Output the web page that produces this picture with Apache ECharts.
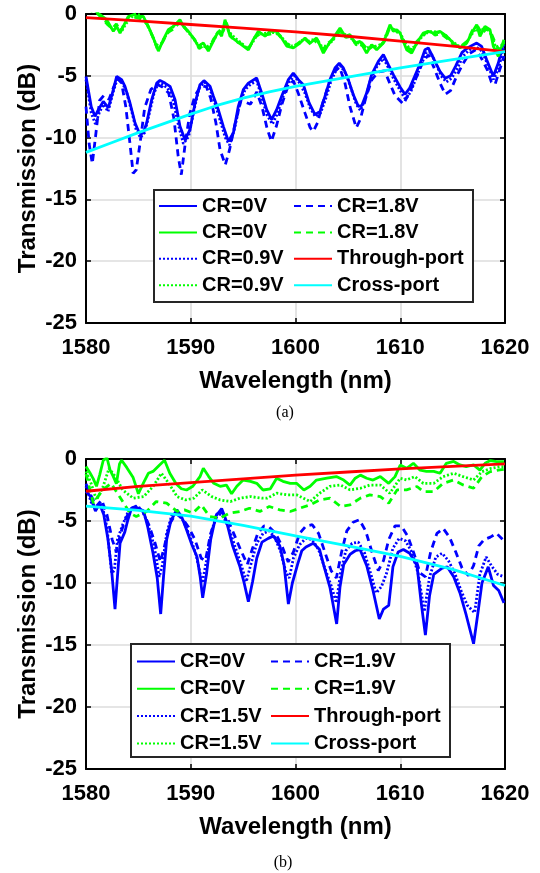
<!DOCTYPE html>
<html>
<head>
<meta charset="utf-8">
<script src="https://cdn.jsdelivr.net/npm/echarts@6/dist/echarts.min.js"></script>
<style>html,body{margin:0;padding:0;background:#fff;}#c{width:540px;height:873px;}</style>
</head>
<body>
<div id="c"></div>
<script>
// ---------- axis ticks ----------
const xTicks = [1580, 1590, 1600, 1610, 1620];
const yTicks = [-25, -20, -15, -10, -5, 0];

// ---------- (a) top panel: [wavelength nm, transmission dB] ----------
const topB0 = [[1580.0,-5.05],[1580.5,-7.5],[1580.86,-8.28],[1581.18,-7.74],[1581.65,-7.07],[1582.13,-7.6],[1582.61,-6.12],[1582.93,-5.05],[1583.4,-5.31],[1583.72,-5.85],[1584.2,-7.2],[1584.68,-8.82],[1585.09,-9.63],[1585.47,-9.63],[1585.79,-8.82],[1586.27,-6.93],[1586.75,-5.59],[1587.06,-5.37],[1587.54,-5.59],[1588.02,-5.85],[1588.5,-6.93],[1588.97,-9.09],[1589.45,-10.17],[1589.93,-9.36],[1590.41,-7.2],[1590.88,-5.72],[1591.26,-5.39],[1591.84,-5.85],[1592.16,-6.66],[1592.63,-7.74],[1593.11,-9.09],[1593.59,-10.3],[1594.07,-9.63],[1594.54,-7.47],[1595.02,-6.12],[1595.5,-5.59],[1596.29,-5.18],[1596.77,-6.39],[1597.25,-7.74],[1597.72,-8.55],[1598.2,-7.74],[1598.68,-6.66],[1599.32,-5.31],[1599.79,-4.78],[1600.27,-5.31],[1600.75,-5.72],[1601.3,-7.2],[1601.86,-8.14],[1602.34,-7.88],[1602.82,-6.66],[1603.29,-5.31],[1603.77,-4.37],[1604.18,-3.97],[1604.57,-4.37],[1605.04,-5.31],[1605.52,-6.53],[1606.0,-7.47],[1606.32,-7.42],[1606.79,-6.39],[1607.27,-4.91],[1607.91,-3.83],[1608.39,-3.29],[1608.86,-4.1],[1609.34,-4.91],[1609.98,-5.9],[1610.45,-6.5],[1610.9,-6.0],[1611.4,-5.0],[1611.9,-4.0],[1612.36,-2.89],[1612.68,-2.75],[1613.16,-3.56],[1613.79,-4.64],[1614.3,-5.2],[1614.8,-5.0],[1615.3,-4.2],[1615.9,-3.1],[1616.5,-2.7],[1617.3,-2.35],[1617.77,-2.62],[1618.25,-3.7],[1618.89,-5.04],[1619.36,-3.97],[1619.9,-2.21]];
const topB09 = [[1580.0,-5.3],[1580.5,-8.0],[1580.9,-8.9],[1581.3,-7.9],[1581.7,-7.3],[1582.1,-7.9],[1582.6,-6.3],[1583.0,-5.2],[1583.5,-5.6],[1583.9,-6.4],[1584.4,-8.0],[1584.8,-9.4],[1585.2,-10.0],[1585.6,-9.6],[1586.0,-8.2],[1586.5,-6.4],[1586.9,-5.6],[1587.3,-5.7],[1587.8,-6.0],[1588.3,-6.9],[1588.8,-8.9],[1589.3,-10.5],[1589.8,-9.9],[1590.3,-7.8],[1590.8,-6.0],[1591.3,-5.5],[1591.8,-6.0],[1592.3,-7.2],[1592.8,-8.6],[1593.3,-10.0],[1593.7,-10.6],[1594.2,-9.2],[1594.7,-7.2],[1595.2,-6.1],[1595.7,-5.7],[1596.3,-5.4],[1596.8,-6.8],[1597.3,-8.2],[1597.8,-8.9],[1598.3,-8.0],[1598.8,-6.7],[1599.4,-5.5],[1599.9,-5.0],[1600.4,-5.6],[1600.9,-6.4],[1601.4,-7.6],[1601.9,-8.3],[1602.4,-8.0],[1602.9,-6.8],[1603.4,-5.4],[1603.9,-4.5],[1604.3,-4.2],[1604.8,-4.8],[1605.3,-6.0],[1605.8,-7.3],[1606.2,-7.8],[1606.7,-6.8],[1607.2,-5.2],[1607.8,-4.2],[1608.4,-3.6],[1608.9,-4.4],[1609.4,-5.3],[1610.0,-6.2],[1610.5,-6.9],[1611.0,-6.3],[1611.5,-5.2],[1612.0,-4.1],[1612.5,-3.1],[1612.9,-3.1],[1613.4,-4.0],[1613.9,-5.0],[1614.4,-5.5],[1614.9,-5.2],[1615.4,-4.5],[1616.0,-3.4],[1616.6,-2.9],[1617.3,-2.7],[1617.8,-3.0],[1618.3,-4.0],[1618.9,-5.3],[1619.4,-4.4],[1619.9,-2.5]];
const topB18 = [[1580.0,-7.5],[1580.3,-10.5],[1580.6,-12.1],[1580.9,-10.0],[1581.3,-7.0],[1581.7,-6.6],[1582.2,-6.9],[1582.6,-6.0],[1583.0,-5.2],[1583.4,-5.6],[1583.8,-7.5],[1584.2,-10.5],[1584.5,-12.9],[1584.8,-12.6],[1585.2,-10.2],[1585.6,-7.6],[1586.2,-6.1],[1586.8,-5.7],[1587.3,-5.9],[1587.9,-6.4],[1588.4,-8.5],[1588.8,-11.5],[1589.1,-13.0],[1589.5,-10.3],[1589.9,-8.1],[1590.4,-6.6],[1591.0,-5.8],[1591.5,-5.9],[1591.9,-6.8],[1592.4,-8.8],[1592.8,-11.0],[1593.3,-12.2],[1593.7,-11.0],[1594.2,-9.0],[1594.8,-7.0],[1595.7,-7.3],[1596.3,-6.3],[1596.8,-7.5],[1597.3,-9.3],[1597.7,-10.3],[1598.2,-9.0],[1598.7,-7.3],[1599.3,-5.8],[1599.8,-5.4],[1600.3,-6.5],[1600.9,-8.0],[1601.4,-9.2],[1601.7,-9.5],[1602.1,-8.8],[1602.6,-7.2],[1603.2,-5.6],[1603.8,-4.6],[1604.2,-4.3],[1604.7,-5.5],[1605.2,-7.5],[1605.8,-9.2],[1606.2,-8.5],[1606.7,-6.8],[1607.3,-5.3],[1607.9,-4.7],[1608.5,-4.6],[1609.0,-5.6],[1609.5,-6.6],[1610.3,-7.3],[1610.9,-6.3],[1611.6,-5.0],[1612.2,-3.8],[1612.7,-3.3],[1613.2,-4.3],[1613.8,-5.6],[1614.3,-6.5],[1614.8,-6.2],[1615.4,-5.0],[1616.0,-4.0],[1616.6,-3.2],[1617.2,-2.9],[1617.7,-3.5],[1618.3,-4.5],[1618.7,-5.5],[1619.05,-5.7],[1619.5,-4.5],[1619.9,-3.4]];
const topG0 = [[1580.0,0.5],[1580.8,0.3],[1581.34,-0.06],[1581.97,-0.46],[1582.61,-1.4],[1582.93,-1.0],[1583.25,-1.54],[1583.56,-1.0],[1584.04,-0.2],[1584.52,-0.06],[1585.0,-0.2],[1585.47,-0.2],[1585.95,-1.0],[1586.43,-1.94],[1586.91,-3.0],[1587.38,-2.08],[1587.86,-1.27],[1588.34,-1.0],[1588.97,-0.46],[1589.29,-1.0],[1589.77,-1.4],[1590.25,-1.94],[1590.72,-2.6],[1591.2,-2.35],[1591.68,-3.0],[1592.16,-2.2],[1592.63,-1.4],[1592.95,-1.8],[1593.27,-0.46],[1593.75,-1.8],[1594.38,-2.2],[1595.02,-2.6],[1595.5,-2.9],[1595.97,-2.08],[1596.45,-1.4],[1597.09,-1.8],[1597.57,-1.4],[1598.2,-1.4],[1598.68,-1.94],[1599.16,-2.6],[1599.79,-2.75],[1600.43,-2.35],[1600.91,-1.94],[1601.38,-2.35],[1602.02,-1.94],[1602.66,-3.16],[1603.13,-2.48],[1603.61,-1.94],[1604.25,-1.13],[1604.73,-1.8],[1605.2,-1.67],[1605.68,-2.35],[1606.16,-2.21],[1606.79,-3.16],[1607.27,-2.48],[1607.75,-2.89],[1608.39,-2.35],[1609.02,-0.87],[1609.34,-1.4],[1609.66,-1.27],[1609.98,-1.54],[1610.61,-2.89],[1611.09,-3.16],[1611.57,-2.35],[1612.2,-1.54],[1612.68,-1.4],[1613.16,-1.54],[1613.79,-1.4],[1614.43,-1.8],[1615.07,-2.35],[1615.7,-2.75],[1616.34,-2.35],[1616.82,-1.54],[1617.3,-0.87],[1617.61,-1.8],[1618.09,-1.0],[1618.57,-1.27],[1618.89,-2.62],[1619.36,-3.43],[1619.9,-2.08]];
const topG09 = [[1580.0,0.6],[1581.0,0.2],[1581.4,-0.2],[1581.9,-0.6],[1582.4,-1.1],[1582.8,-1.3],[1583.1,-1.1],[1583.4,-1.4],[1583.8,-0.8],[1584.3,-0.3],[1584.7,0.0],[1585.2,-0.1],[1585.7,-0.6],[1586.2,-1.5],[1586.6,-2.3],[1587.0,-2.7],[1587.5,-1.9],[1588.0,-1.3],[1588.6,-0.8],[1589.1,-0.7],[1589.6,-1.3],[1590.1,-1.8],[1590.6,-2.4],[1591.0,-2.5],[1591.5,-2.7],[1592.0,-2.4],[1592.5,-1.6],[1592.9,-1.2],[1593.3,-0.8],[1593.7,-1.5],[1594.3,-2.0],[1594.9,-2.4],[1595.4,-2.8],[1595.9,-2.3],[1596.4,-1.6],[1596.9,-1.6],[1597.5,-1.5],[1598.1,-1.5],[1598.6,-1.8],[1599.2,-2.4],[1599.7,-2.6],[1600.3,-2.4],[1600.8,-2.0],[1601.3,-2.2],[1601.9,-2.0],[1602.5,-2.6],[1603.0,-2.6],[1603.6,-2.1],[1604.1,-1.4],[1604.6,-1.6],[1605.1,-1.8],[1605.6,-2.2],[1606.1,-2.4],[1606.7,-2.8],[1607.2,-2.6],[1607.7,-2.6],[1608.3,-2.4],[1608.9,-1.2],[1609.4,-1.3],[1609.9,-1.4],[1610.5,-2.4],[1611.0,-2.9],[1611.5,-2.5],[1612.1,-1.8],[1612.6,-1.5],[1613.1,-1.4],[1613.7,-1.5],[1614.3,-1.7],[1614.9,-2.2],[1615.6,-2.6],[1616.2,-2.5],[1616.7,-1.8],[1617.2,-1.2],[1617.6,-1.5],[1618.0,-1.1],[1618.5,-1.3],[1618.9,-2.2],[1619.3,-3.1],[1619.9,-2.2]];
const topG18 = [[1580.0,0.4],[1581.0,0.1],[1581.5,-0.3],[1582.0,-0.8],[1582.5,-1.2],[1582.9,-0.8],[1583.3,-1.4],[1583.7,-0.7],[1584.2,-0.1],[1584.8,-0.3],[1585.3,-0.4],[1585.8,-0.8],[1586.3,-1.7],[1586.8,-2.8],[1587.3,-2.3],[1587.8,-1.5],[1588.4,-1.2],[1589.0,-0.6],[1589.4,-1.1],[1589.9,-1.6],[1590.4,-2.1],[1590.8,-2.8],[1591.3,-2.5],[1591.7,-2.9],[1592.2,-2.0],[1592.7,-1.6],[1593.1,-1.4],[1593.4,-0.7],[1593.9,-1.9],[1594.5,-2.3],[1595.1,-2.5],[1595.6,-2.7],[1596.1,-1.9],[1596.6,-1.6],[1597.2,-1.7],[1597.7,-1.6],[1598.3,-1.6],[1598.8,-2.1],[1599.3,-2.5],[1599.9,-2.6],[1600.5,-2.2],[1601.0,-2.1],[1601.5,-2.5],[1602.1,-2.1],[1602.7,-2.9],[1603.2,-2.3],[1603.7,-2.0],[1604.3,-1.3],[1604.8,-1.9],[1605.3,-1.8],[1605.8,-2.5],[1606.3,-2.3],[1606.9,-2.9],[1607.4,-2.6],[1607.9,-2.7],[1608.5,-2.2],[1609.0,-1.1],[1609.5,-1.3],[1610.0,-1.7],[1610.6,-2.7],[1611.1,-2.9],[1611.6,-2.2],[1612.2,-1.7],[1612.8,-1.3],[1613.3,-1.7],[1613.9,-1.6],[1614.5,-2.0],[1615.1,-2.5],[1615.8,-2.6],[1616.4,-2.2],[1616.9,-1.3],[1617.4,-1.0],[1617.8,-1.6],[1618.2,-1.2],[1618.7,-1.6],[1619.1,-2.4],[1619.5,-3.0],[1619.9,-2.3]];
const topThrough = [[1580,-0.3],[1585,-0.55],[1590,-0.85],[1595,-1.15],[1600,-1.45],[1605,-1.8],[1610,-2.2],[1615,-2.6],[1620,-3.05]];
const topCross = [[1580,-11.2],[1582.5,-10.4],[1585,-9.6],[1587.5,-8.85],[1590,-8.1],[1592.5,-7.4],[1595,-6.8],[1597.5,-6.3],[1600,-5.85],[1605,-5.1],[1610,-4.35],[1615,-3.7],[1620,-3.05]];

// ---------- (b) bottom panel ----------
const botB0 = [[1580.0,-2.6],[1580.4,-3.0],[1580.9,-4.2],[1581.3,-3.6],[1581.7,-4.5],[1582.1,-6.5],[1582.45,-9.0],[1582.77,-12.1],[1583.0,-9.5],[1583.25,-6.8],[1583.7,-5.9],[1584.0,-4.9],[1584.3,-4.1],[1584.8,-3.9],[1585.5,-4.2],[1585.9,-5.5],[1586.4,-7.6],[1586.8,-9.6],[1587.13,-12.5],[1587.4,-9.5],[1587.7,-6.5],[1588.1,-5.0],[1588.65,-4.1],[1589.1,-4.6],[1589.6,-5.7],[1590.1,-6.9],[1590.6,-7.9],[1590.9,-9.5],[1591.14,-11.2],[1591.5,-9.3],[1591.9,-6.5],[1592.4,-4.6],[1592.95,-4.0],[1593.4,-5.0],[1594.0,-7.0],[1594.7,-8.7],[1595.1,-10.0],[1595.5,-11.5],[1595.9,-9.9],[1596.3,-8.0],[1596.8,-6.7],[1597.4,-6.4],[1597.9,-6.2],[1598.5,-7.0],[1598.9,-8.5],[1599.32,-11.7],[1599.7,-10.0],[1600.2,-8.5],[1600.6,-7.4],[1601.0,-7.1],[1601.7,-6.8],[1602.3,-7.3],[1602.7,-8.6],[1603.3,-10.4],[1603.93,-13.3],[1604.25,-10.3],[1604.6,-8.5],[1605.2,-7.7],[1605.7,-7.4],[1606.16,-7.3],[1606.8,-8.6],[1607.4,-10.6],[1608.0,-12.9],[1608.4,-12.1],[1608.9,-11.8],[1609.3,-8.7],[1609.8,-7.5],[1610.3,-7.3],[1610.9,-7.6],[1611.6,-8.6],[1612.0,-11.6],[1612.4,-14.2],[1612.8,-11.0],[1613.2,-9.3],[1614.0,-8.8],[1614.5,-8.7],[1615.1,-9.5],[1615.7,-10.8],[1616.3,-12.6],[1617.0,-14.9],[1617.4,-12.5],[1617.8,-10.0],[1618.4,-8.7],[1618.9,-10.2],[1619.4,-10.6],[1619.9,-11.6]];
const botB15 = [[1580.0,-2.2],[1580.5,-3.5],[1581.0,-4.0],[1581.5,-3.6],[1582.0,-5.5],[1582.45,-9.2],[1582.7,-9.0],[1583.0,-6.5],[1583.5,-5.3],[1584.0,-4.3],[1584.6,-3.8],[1585.3,-4.0],[1585.9,-5.2],[1586.5,-7.0],[1587.0,-9.5],[1587.3,-8.5],[1587.7,-6.0],[1588.2,-4.5],[1588.7,-4.3],[1589.3,-5.0],[1589.9,-6.2],[1590.5,-7.7],[1591.1,-10.0],[1591.5,-8.2],[1592.0,-5.8],[1592.5,-4.4],[1593.0,-4.5],[1593.6,-5.5],[1594.2,-7.0],[1594.8,-8.5],[1595.3,-9.9],[1595.8,-8.3],[1596.3,-6.8],[1596.9,-6.0],[1597.5,-5.8],[1598.0,-6.3],[1598.6,-7.5],[1599.1,-9.2],[1599.4,-9.6],[1599.8,-8.0],[1600.4,-6.9],[1601.0,-6.4],[1601.6,-6.5],[1602.2,-7.3],[1602.8,-8.8],[1603.4,-10.2],[1603.9,-11.6],[1604.3,-9.2],[1604.8,-7.4],[1605.4,-6.8],[1606.0,-6.7],[1606.6,-7.6],[1607.2,-9.3],[1607.7,-10.8],[1608.2,-10.3],[1608.7,-9.2],[1609.3,-7.2],[1609.9,-6.4],[1610.5,-6.6],[1611.1,-7.5],[1611.7,-9.2],[1612.3,-12.3],[1612.8,-9.5],[1613.4,-7.9],[1614.0,-7.6],[1614.6,-8.2],[1615.2,-9.2],[1615.8,-10.6],[1616.4,-11.8],[1617.1,-12.4],[1617.6,-9.3],[1618.2,-7.9],[1618.7,-8.6],[1619.3,-9.3],[1619.9,-9.5]];
const botB19 = [[1580.0,-2.0],[1580.5,-3.0],[1581.0,-3.8],[1581.5,-3.3],[1582.0,-4.5],[1582.5,-6.5],[1582.9,-7.5],[1583.3,-6.0],[1583.8,-4.8],[1584.3,-4.0],[1584.8,-3.8],[1585.4,-4.2],[1586.0,-5.3],[1586.6,-6.8],[1587.1,-8.3],[1587.5,-7.0],[1588.0,-5.2],[1588.6,-4.4],[1589.2,-4.8],[1589.8,-5.5],[1590.4,-6.5],[1591.0,-8.0],[1591.4,-8.2],[1591.9,-6.0],[1592.5,-4.6],[1593.0,-4.3],[1593.6,-5.0],[1594.2,-6.2],[1594.8,-7.4],[1595.4,-8.5],[1595.9,-7.2],[1596.4,-6.0],[1597.0,-5.4],[1597.5,-5.5],[1598.1,-6.0],[1598.7,-7.0],[1599.3,-8.3],[1599.8,-7.5],[1600.4,-6.0],[1601.0,-5.4],[1601.6,-5.3],[1602.2,-6.0],[1602.8,-7.5],[1603.4,-9.0],[1603.9,-9.6],[1604.4,-7.5],[1604.9,-5.8],[1605.5,-5.1],[1606.1,-4.9],[1606.7,-5.8],[1607.3,-7.5],[1607.9,-9.0],[1608.4,-8.2],[1608.9,-6.5],[1609.5,-5.4],[1610.1,-5.4],[1610.7,-6.2],[1611.3,-7.6],[1611.9,-9.2],[1612.4,-9.5],[1612.9,-7.5],[1613.5,-6.0],[1614.1,-5.6],[1614.7,-6.3],[1615.3,-7.5],[1615.9,-8.8],[1616.5,-9.4],[1617.0,-8.6],[1617.5,-7.0],[1618.0,-6.5],[1618.6,-6.3],[1619.2,-6.0],[1619.9,-6.6]];
const botG0 = [[1580.0,-0.6],[1580.4,-1.15],[1580.7,-1.6],[1581.0,-2.2],[1581.3,-1.3],[1581.65,-0.1],[1582.0,0.1],[1582.3,-0.9],[1582.6,-1.4],[1582.9,-2.0],[1583.2,-0.4],[1583.4,-0.1],[1583.9,-0.7],[1584.5,-1.5],[1585.0,-2.8],[1585.5,-1.9],[1585.95,-1.15],[1586.4,-1.0],[1587.0,-0.5],[1587.5,-0.1],[1588.0,-1.15],[1588.6,-2.0],[1589.1,-2.4],[1589.6,-2.5],[1590.2,-2.2],[1590.9,-1.4],[1591.2,-0.75],[1591.7,-1.4],[1592.2,-1.96],[1592.8,-2.2],[1593.4,-2.1],[1593.9,-2.8],[1594.4,-2.2],[1595.0,-1.7],[1595.7,-1.8],[1596.3,-1.96],[1596.9,-2.5],[1597.6,-2.4],[1598.2,-1.55],[1598.8,-1.8],[1599.5,-1.96],[1600.1,-1.96],[1600.8,-2.5],[1601.4,-2.2],[1602.0,-1.7],[1603.0,-1.55],[1603.9,-1.42],[1604.6,-1.7],[1605.2,-2.1],[1605.7,-1.55],[1606.2,-1.3],[1606.8,-1.55],[1607.4,-1.7],[1608.1,-1.42],[1608.9,-1.96],[1609.5,-1.42],[1610.0,-0.48],[1610.6,-0.75],[1611.25,-0.35],[1611.9,-0.9],[1612.5,-1.0],[1613.2,-1.0],[1613.8,-1.15],[1614.4,-0.35],[1615.1,-0.2],[1615.7,-0.48],[1616.3,-0.62],[1617.0,-0.48],[1617.6,-0.9],[1618.1,-0.35],[1618.6,-0.13],[1619.2,-0.21],[1619.9,-0.21]];
const botG15 = [[1580.0,-1.0],[1580.5,-2.0],[1581.0,-3.3],[1581.6,-2.3],[1582.2,-0.75],[1582.8,-1.42],[1583.5,-2.49],[1584.5,-3.16],[1585.5,-3.03],[1586.4,-2.22],[1587.2,-1.15],[1587.9,-1.96],[1588.7,-3.03],[1589.5,-3.3],[1590.3,-3.16],[1591.1,-2.49],[1592.0,-3.03],[1592.8,-3.3],[1593.8,-3.43],[1594.7,-3.16],[1595.7,-3.03],[1596.8,-3.16],[1597.3,-3.16],[1598.2,-2.76],[1599.2,-2.89],[1600.1,-2.89],[1601.4,-3.43],[1602.3,-2.76],[1603.3,-2.2],[1604.3,-2.1],[1605.2,-2.49],[1606.2,-2.36],[1607.1,-2.1],[1608.1,-2.1],[1609.0,-2.76],[1610.0,-1.55],[1610.6,-1.69],[1611.4,-1.42],[1612.2,-1.96],[1613.2,-1.96],[1614.1,-1.42],[1615.1,-1.15],[1616.0,-1.42],[1617.0,-1.69],[1617.8,-1.02],[1618.7,-0.75],[1619.5,-0.62],[1619.9,-0.62]];
const botG19 = [[1580.0,-1.2],[1580.7,-3.56],[1581.6,-2.49],[1582.4,-1.96],[1583.2,-3.03],[1584.2,-4.37],[1584.8,-4.64],[1585.8,-4.23],[1586.7,-3.43],[1587.7,-3.56],[1588.7,-4.23],[1589.4,-4.1],[1590.2,-4.37],[1591.0,-3.7],[1591.8,-4.64],[1592.8,-4.77],[1593.7,-4.37],[1594.7,-4.23],[1595.6,-3.97],[1596.6,-4.23],[1597.5,-3.83],[1598.5,-4.1],[1599.5,-4.23],[1600.4,-3.97],[1601.4,-3.7],[1602.3,-3.3],[1603.3,-3.16],[1604.3,-3.83],[1605.2,-3.7],[1606.2,-3.16],[1607.1,-2.89],[1608.1,-3.03],[1608.9,-3.56],[1609.7,-2.49],[1610.6,-2.49],[1611.6,-2.22],[1612.2,-2.63],[1613.2,-2.63],[1614.1,-1.96],[1615.1,-1.69],[1616.0,-2.09],[1617.0,-2.36],[1617.8,-1.42],[1618.6,-1.02],[1619.5,-0.88],[1619.9,-0.83]];
const botThrough = [[1580,-2.6],[1585,-2.2],[1590,-1.9],[1595,-1.6],[1600,-1.3],[1605,-1.05],[1610,-0.8],[1615,-0.6],[1620,-0.4]];
const botCross = [[1580,-3.8],[1585,-4.15],[1590,-4.6],[1595,-5.35],[1600,-6.2],[1605,-7.0],[1610,-7.85],[1615,-8.9],[1620,-10.2]];

// ---------- legend labels ----------
const legendLabels = {
  a_b0:'CR=0V', a_g0:'CR=0V', a_b09:'CR=0.9V', a_g09:'CR=0.9V',
  a_b18:'CR=1.8V', a_g18:'CR=1.8V', a_thr:'Through-port', a_crs:'Cross-port',
  b_b0:'CR=0V', b_g0:'CR=0V', b_b15:'CR=1.5V', b_g15:'CR=1.5V',
  b_b19:'CR=1.9V', b_g19:'CR=1.9V', b_thr:'Through-port', b_crs:'Cross-port'
};

const FONT = '"Liberation Sans", Arial, Helvetica, sans-serif';
const BLUE = '#0000ff', GREEN = '#00ff00', RED = '#ff0000', CYAN = '#00ffff';
const SOLID = 'solid', DASH = [7, 5], DOT = [2, 2];

function mkSeries(name, data, color, type, panel) {
  return {
    name: name, type: 'line', data: data,
    xAxisIndex: panel * 2, yAxisIndex: panel * 2,
    symbol: 'none', smooth: false, clip: true,
    color: color,
    lineStyle: { color: color, width: 2.8, type: type },
    emphasis: { disabled: true }
  };
}

function xAx(grid, pos, show) {
  return {
    type: 'value', gridIndex: grid, position: pos,
    min: xTicks[0], max: xTicks[xTicks.length - 1], interval: 10,
    name: show ? 'Wavelength (nm)' : '', nameLocation: 'middle', nameGap: 46, nameMoveOverlap: false,
    nameTextStyle: { fontFamily: FONT, fontWeight: 'bold', fontSize: 24, color: '#000' },
    axisLine: { show: true, onZero: false, lineStyle: { color: '#000', width: 2 } },
    axisTick: { show: true, inside: true, length: 5, lineStyle: { color: '#000', width: 1.5 } },
    axisLabel: { show: show, margin: 14, fontFamily: FONT, fontWeight: 'bold', fontSize: 22, color: '#000',
                 formatter: function (v) { return String(v); } },
    splitLine: { show: show, lineStyle: { color: '#dcdcdc', width: 1.6 } }
  };
}
function yAx(grid, pos, show) {
  return {
    type: 'value', gridIndex: grid, position: pos,
    min: yTicks[0], max: yTicks[yTicks.length - 1], interval: 5,
    name: show ? 'Transmission (dB)' : '', nameLocation: 'middle', nameGap: 46, nameMoveOverlap: false,
    nameTextStyle: { fontFamily: FONT, fontWeight: 'bold', fontSize: 24, color: '#000' },
    axisLine: { show: true, onZero: false, lineStyle: { color: '#000', width: 2 } },
    axisTick: { show: true, inside: true, length: 5, lineStyle: { color: '#000', width: 1.5 } },
    axisLabel: { show: show, margin: 9, fontFamily: FONT, fontWeight: 'bold', fontSize: 22, color: '#000',
                 formatter: function (v) { return String(v); } },
    splitLine: { show: show, lineStyle: { color: '#dcdcdc', width: 1.6 } }
  };
}
function legend(names, left, top, gap) {
  return {
    data: names, orient: 'vertical', left: left, top: top, padding: 0,
    itemWidth: 38, itemHeight: 14, itemGap: gap, selectedMode: false, z: 20,
    formatter: function (n) { return legendLabels[n]; },
    itemStyle: { opacity: 0, borderWidth: 0 },
    textStyle: { fontFamily: FONT, fontWeight: 'bold', fontSize: 20, lineHeight: 20, color: '#000' },
    backgroundColor: 'transparent'
  };
}

const chart = echarts.init(document.getElementById('c'), null, { renderer: 'canvas' });
chart.setOption({
  animation: false,
  backgroundColor: '#fff',
  grid: [
    { left: 86, top: 14, width: 419, height: 309 },
    { left: 86, top: 459, width: 419, height: 310 }
  ],
  xAxis: [xAx(0, 'bottom', true), xAx(0, 'top', false), xAx(1, 'bottom', true), xAx(1, 'top', false)],
  yAxis: [yAx(0, 'left', true), yAx(0, 'right', false), yAx(1, 'left', true), yAx(1, 'right', false)],
  legend: [
    legend(['a_b0', 'a_g0', 'a_b09', 'a_g09'], 158, 196, 6.4),
    legend(['a_b18', 'a_g18', 'a_thr', 'a_crs'], 293, 196, 6.4),
    legend(['b_b0', 'b_g0', 'b_b15', 'b_g15'], 136, 651.5, 7.3),
    legend(['b_b19', 'b_g19', 'b_thr', 'b_crs'], 270, 651.5, 7.3)
  ],
  graphic: [
    { type: 'rect', z: 15, shape: { x: 154, y: 190, width: 319, height: 112 }, style: { fill: '#fff', stroke: '#262626', lineWidth: 2 } },
    { type: 'rect', z: 15, shape: { x: 131, y: 644, width: 319, height: 113 }, style: { fill: '#fff', stroke: '#262626', lineWidth: 2 } },
    { type: 'text', z: 15, x: 285, y: 413, style: { text: '(a)', font: '16px "Liberation Serif", "Times New Roman", serif', fill: '#000', align: 'center', verticalAlign: 'middle' } },
    { type: 'text', z: 15, x: 283, y: 863, style: { text: '(b)', font: '16px "Liberation Serif", "Times New Roman", serif', fill: '#000', align: 'center', verticalAlign: 'middle' } }
  ],
  series: [
    mkSeries('a_b0', topB0, BLUE, SOLID, 0),
    mkSeries('a_g0', topG0, GREEN, SOLID, 0),
    mkSeries('a_b09', topB09, BLUE, DOT, 0),
    mkSeries('a_g09', topG09, GREEN, DOT, 0),
    mkSeries('a_b18', topB18, BLUE, DASH, 0),
    mkSeries('a_g18', topG18, GREEN, DASH, 0),
    mkSeries('a_thr', topThrough, RED, SOLID, 0),
    mkSeries('a_crs', topCross, CYAN, SOLID, 0),
    mkSeries('b_b0', botB0, BLUE, SOLID, 1),
    mkSeries('b_g0', botG0, GREEN, SOLID, 1),
    mkSeries('b_b15', botB15, BLUE, DOT, 1),
    mkSeries('b_g15', botG15, GREEN, DOT, 1),
    mkSeries('b_b19', botB19, BLUE, DASH, 1),
    mkSeries('b_g19', botG19, GREEN, DASH, 1),
    mkSeries('b_thr', botThrough, RED, SOLID, 1),
    mkSeries('b_crs', botCross, CYAN, SOLID, 1)
  ]
});
</script>
</body>
</html>
